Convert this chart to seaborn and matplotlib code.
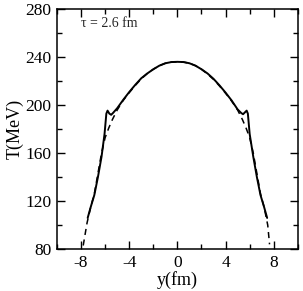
import matplotlib
matplotlib.use("Agg")
import matplotlib.pyplot as plt
from matplotlib.ticker import MultipleLocator
import pandas as pd
import seaborn as sns

# Solid curve (full calculation)
y_solid = [-7.45, -7.2, -6.9, -6.6, -6.3, -6.05, -5.9, -5.8, -5.65, -5.5, -5.35, -5.0,
           -4.5, -4.0, -3.5, -3.0, -2.5, -2.0, -1.5, -1.0, -0.5, 0.0,
           0.5, 1.0, 1.5, 2.0, 2.5, 3.0, 3.5, 4.0, 4.5, 5.0, 5.3, 5.45, 5.6, 5.75,
           5.85, 6.0, 6.3, 6.6, 6.9, 7.2, 7.45]
T_solid = [106, 115, 125, 140, 157, 176, 193, 195.5, 193, 192, 193.5, 197.5,
           204.5, 211, 217, 222.5, 226.5, 230, 233, 235, 236, 236.2,
           236, 235, 233, 230, 226.5, 222, 216.5, 210.5, 204, 196.5, 193.5, 192.5, 194, 195.5,
           193, 176, 157, 140, 125, 115, 106]

# Dashed curve (approximation)
y_dash = [-7.82, -7.5, -7.2, -6.9, -6.6, -6.3, -6.0, -5.7, -5.4, -5.0,
          -4.5, -4.0, -3.5, -3.0, -2.5, -2.0, -1.5, -1.0, -0.5, 0.0,
          0.5, 1.0, 1.5, 2.0, 2.5, 3.0, 3.5, 4.0, 4.5, 5.0,
          5.4, 5.7, 6.0, 6.3, 6.6, 6.9, 7.2, 7.5, 7.65]
T_dash = [83, 102, 115, 126, 143, 160, 173, 181, 188, 196,
          204, 210.5, 216.5, 222, 226.5, 230, 233, 235, 236, 236.2,
          236, 235, 233, 230, 226, 221.5, 216, 210, 203.5, 196,
          188, 181, 173, 160, 143, 126, 115, 100, 84]

df_solid = pd.DataFrame({"y": y_solid, "T": T_solid})
df_dash = pd.DataFrame({"y": y_dash, "T": T_dash})

sns.set_style("ticks")
plt.rcParams["font.family"] = ["Liberation Serif", "DejaVu Serif"]
plt.rcParams["axes.unicode_minus"] = False

fig = plt.figure(figsize=(3.03, 2.91), dpi=100)
ax = fig.add_axes([0.188, 0.144, 0.795, 0.824])

sns.lineplot(data=df_dash, x="y", y="T", ax=ax, color="black", lw=1.1,
             linestyle=(0, (4, 3)), sort=False, estimator=None)
sns.lineplot(data=df_solid, x="y", y="T", ax=ax, color="black", lw=1.4,
             sort=False, estimator=None)

ax.set_xlim(-10, 10)
ax.set_ylim(80, 280)
ax.xaxis.set_major_locator(MultipleLocator(4))
ax.xaxis.set_minor_locator(MultipleLocator(2))
ax.yaxis.set_major_locator(MultipleLocator(40))
ax.yaxis.set_minor_locator(MultipleLocator(20))
ax.set_xticks([-8, -4, 0, 4, 8])
ax.tick_params(which="both", direction="in", top=True, right=True, width=1,
               color="black", labelcolor="black", labelsize=12.5, pad=4)
ax.tick_params(which="major", length=6)
ax.tick_params(which="minor", length=3.8)
for s in ax.spines.values():
    s.set_linewidth(1.1)
    s.set_color("black")

ax.set_xlabel("y(fm)", fontsize=13, labelpad=0, color="black")
ax.set_ylabel("T(MeV)", fontsize=13, labelpad=1, color="black")
ax.text(-8.0, 268, "τ = 2.6 fm", fontsize=10, va="center", ha="left")

fig.savefig("out.png", dpi=100)
